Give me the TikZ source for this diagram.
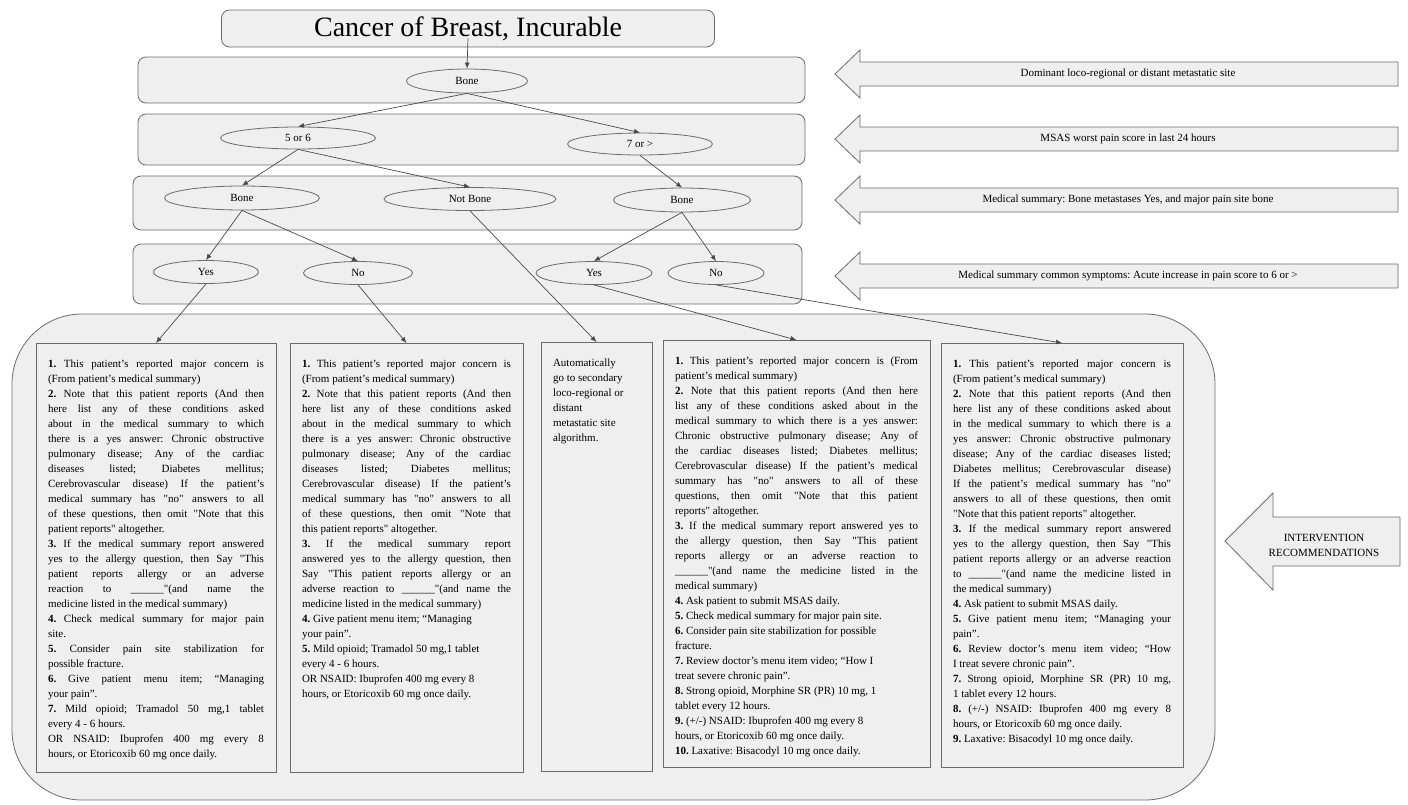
\documentclass[tikz,border=0pt]{standalone}
\usepackage{fontspec}
\setmainfont{Liberation Serif}
\usetikzlibrary{arrows.meta, shapes.geometric, positioning}
\definecolor{panel}{HTML}{EFEFEF}
\definecolor{edge}{HTML}{6B6B6B}
\definecolor{wire}{HTML}{4A4A4A}
\newcommand{\dquote}{\textquotedbl}
\tikzset{> = { Latex[length = 6pt, width = 5pt] }}
\tolerance=10000
\hbadness=10000
\hyphenpenalty=10000
\frenchspacing

\begin{document}
\begin{tikzpicture}[x = 1pt, y = -1pt, line width = 0.8pt,
		choice/.style = { draw = edge, fill = panel, ellipse, inner sep = 0pt, font = \fontsize{11}{13}\selectfont },
		band/.style = { draw = edge, fill = panel, rounded corners = 8pt },
		pointer/.style = { draw = edge, fill = panel },
		advice/.style = { draw = edge, fill = panel, anchor = north, align = justify, inner xsep = 12pt, inner ysep = 8pt, text height = 16pt,
			font = \fontsize{11}{15}\selectfont },
		hint/.style = { font = \fontsize{11}{15}\selectfont },
		flow/.style = { ->, draw = wire, line width = 0.7pt }]

		\useasboundingbox (0,0) rectangle (1408,804);

		% background bands
		\draw [band, rounded corners = 70pt] (12,314) rectangle (1215,800);
		\draw [band] (138,57) rectangle (805,103);
		\draw [band] (138,114) rectangle (805,165);
		\draw [band] (133,176) rectangle (802,230);
		\draw [band] (133,244) rectangle (802,304);

		\node [band, minimum width = 493, minimum height = 37, font = \fontsize{28}{30}\selectfont] (title) at (468,28.5) {Cancer of Breast, Incurable};

		% decision tree
		\node [choice, minimum width = 121, minimum height = 24] (site)    at (467,81)  {Bone};
		\node [choice, minimum width = 155, minimum height = 22] (low)     at (298,138) {5 or 6};
		\node [choice, minimum width = 145, minimum height = 22] (high)    at (640,144) {7 or >};
		\node [choice, minimum width = 155, minimum height = 24] (boneA)   at (242,198) {Bone};
		\node [choice, minimum width = 172, minimum height = 23] (notbone) at (470,199) {Not Bone};
		\node [choice, minimum width = 137, minimum height = 24] (boneB)   at (682,200) {Bone};
		\node [choice, minimum width = 105, minimum height = 23] (yesA)    at (206,272) {Yes};
		\node [choice, minimum width = 109, minimum height = 23] (noA)     at (358,273) {No};
		\node [choice, minimum width = 116, minimum height = 23] (yesB)    at (594,273) {Yes};
		\node [choice, minimum width = 96,  minimum height = 23] (noB)     at (716,273) {No};

		% recommendations
		\node [advice, text width = 216, text depth = 397] (recA) at (156,343) {\textbf{1.} This patient's reported major concern is\linebreak
			(From patient's medical summary)\\
			\textbf{2.} Note that this patient reports (And then\linebreak
			here list any of these conditions asked\linebreak
			about in the medical summary to which\linebreak
			there is a yes answer: Chronic obstructive\linebreak
			pulmonary disease; Any of the cardiac\linebreak
			diseases listed; Diabetes mellitus;\linebreak
			Cerebrovascular disease) If the patient's\linebreak
			medical summary has \dquote no\dquote{} answers to all\linebreak
			of these questions, then omit \dquote Note that this\linebreak
			patient reports\dquote{} altogether.\\
			\textbf{3.} If the medical summary report answered\linebreak
			yes to the allergy question, then Say \dquote This\linebreak
			patient reports allergy or an adverse\linebreak
			reaction to \_\_\_\_\_\_\dquote(and name the\linebreak
			medicine listed in the medical summary)\\
			\textbf{4.} Check medical summary for major pain\linebreak
			site.\\
			\textbf{5.} Consider pain site stabilization for\linebreak
			possible fracture.\\
			\textbf{6.} Give patient menu item; ``Managing\linebreak
			your pain''.\\
			\textbf{7.} Mild opioid; Tramadol 50 mg,1 tablet\linebreak
			every 4 - 6 hours.\\
			OR NSAID: Ibuprofen 400 mg every 8\linebreak
			hours, or Etoricoxib 60 mg once daily.};

		\node [advice, text width = 209, text depth = 397] (recB) at (406.5,343) {\textbf{1.} This patient's reported major concern is\linebreak
			(From patient's medical summary)\\
			\textbf{2.} Note that this patient reports (And then\linebreak
			here list any of these conditions asked\linebreak
			about in the medical summary to which\linebreak
			there is a yes answer: Chronic obstructive\linebreak
			pulmonary disease; Any of the cardiac\linebreak
			diseases listed; Diabetes mellitus;\linebreak
			Cerebrovascular disease) If the patient's\linebreak
			medical summary has \dquote no\dquote{} answers to all\linebreak
			of these questions, then omit \dquote Note that\linebreak
			this patient reports\dquote{} altogether.\\
			\textbf{3.} If the medical summary report\linebreak
			answered yes to the allergy question, then\linebreak
			Say \dquote This patient reports allergy or an\linebreak
			adverse reaction to \_\_\_\_\_\_\dquote(and name the\linebreak
			medicine listed in the medical summary)\\
			\textbf{4.} Give patient menu item; ``Managing\\
			your pain''.\\
			\textbf{5.} Mild opioid; Tramadol 50 mg,1 tablet\\
			every 4 - 6 hours.\\
			OR NSAID: Ibuprofen 400 mg every 8\\
			hours, or Etoricoxib 60 mg once daily.};

		\node [advice, text width = 87, text depth = 397] (recC) at (596.5,342) {Automatically\\
			go to secondary\\
			loco-regional or\\
			distant\\
			metastatic site\\
			algorithm.};

		\node [advice, text width = 243, text depth = 395] (recD) at (796.5,340) {\textbf{1.} This patient's reported major concern is (From\linebreak
			patient's medical summary)\\
			\textbf{2.} Note that this patient reports (And then here\linebreak
			list any of these conditions asked about in the\linebreak
			medical summary to which there is a yes answer:\linebreak
			Chronic obstructive pulmonary disease; Any of\linebreak
			the cardiac diseases listed; Diabetes mellitus;\linebreak
			Cerebrovascular disease) If the patient's medical\linebreak
			summary has \dquote no\dquote{} answers to all of these\linebreak
			questions, then omit \dquote Note that this patient\linebreak
			reports\dquote{} altogether.\\
			\textbf{3.} If the medical summary report answered yes to\linebreak
			the allergy question, then Say \dquote This patient\linebreak
			reports allergy or an adverse reaction to\linebreak
			\_\_\_\_\_\_\dquote(and name the medicine listed in the\linebreak
			medical summary)\\
			\textbf{4.} Ask patient to submit MSAS daily.\\
			\textbf{5.} Check medical summary for major pain site.\\
			\textbf{6.} Consider pain site stabilization for possible\\
			fracture.\\
			\textbf{7.} Review doctor's menu item video; ``How I\\
			treat severe chronic pain''.\\
			\textbf{8.} Strong opioid, Morphine SR (PR) 10 mg, 1\\
			tablet every 12 hours.\\
			\textbf{9.} (+/-) NSAID: Ibuprofen 400 mg every 8\\
			hours, or Etoricoxib 60 mg once daily.\\
			\textbf{10.} Laxative: Bisacodyl 10 mg once daily.};

		\node [advice, text width = 218, text depth = 392] (recE) at (1062,343) {\textbf{1.} This patient's reported major concern is\linebreak
			(From patient's medical summary)\\
			\textbf{2.} Note that this patient reports (And then\linebreak
			here list any of these conditions asked about\linebreak
			in the medical summary to which there is a\linebreak
			yes answer: Chronic obstructive pulmonary\linebreak
			disease; Any of the cardiac diseases listed;\linebreak
			Diabetes mellitus; Cerebrovascular disease)\linebreak
			If the patient's medical summary has \dquote no\dquote\linebreak
			answers to all of these questions, then omit\linebreak
			\dquote Note that this patient reports\dquote{} altogether.\\
			\textbf{3.} If the medical summary report answered\linebreak
			yes to the allergy question, then Say \dquote This\linebreak
			patient reports allergy or an adverse reaction\linebreak
			to \_\_\_\_\_\_\dquote(and name the medicine listed in\linebreak
			the medical summary)\\
			\textbf{4.} Ask patient to submit MSAS daily.\\
			\textbf{5.} Give patient menu item; ``Managing your\linebreak
			pain''.\\
			\textbf{6.} Review doctor's menu item video; ``How\linebreak
			I treat severe chronic pain''.\\
			\textbf{7.} Strong opioid, Morphine SR (PR) 10 mg,\linebreak
			1 tablet every 12 hours.\\
			\textbf{8.} (+/-) NSAID: Ibuprofen 400 mg every 8\linebreak
			hours, or Etoricoxib 60 mg once daily.\\
			\textbf{9.} Laxative: Bisacodyl 10 mg once daily.};

		% level pointers
		\foreach \ty/\lbl [count = \i] in {74/{Dominant loco-regional or distant metastatic site},
				139/{MSAS worst pain score in last 24 hours},
				200/{Medical summary: Bone metastases Yes, and major pain site bone},
				276/{Medical summary common symptoms: Acute increase in pain score to 6 or >}}
		{
			\draw [pointer] (835,\ty) -- (860,\ty-24) -- (860,\ty-12) -- (1398,\ty-12) -- (1398,\ty+12) -- (860,\ty+12) -- (860,\ty+24) -- cycle;
			\node [hint] (level\i) at (1128,\ty) {\lbl};
		}
		\draw [pointer] (1225,541) -- (1273,493) -- (1273,517) -- (1400,517) -- (1400,566) -- (1273,566) -- (1273,590) -- cycle;
		\node [hint, align = center] (action) at (1324,545) {INTERVENTION\\RECOMMENDATIONS};

		% connectors
		\draw [flow] ([yshift = 9pt]title.south) -- (site.north);
		\draw [flow] (site.south) -- (low.north);
		\draw [flow] (site.south) -- (high.north);
		\draw [flow] (low.south) -- (boneA.north);
		\draw [flow] (low.south) -- (notbone.north);
		\draw [flow] (high.south) -- (boneB.north);
		\draw [flow] (boneA.south) -- (yesA.north);
		\draw [flow] (boneA.south) -- (noA.north);
		\draw [flow] (boneB.south) -- (yesB.north);
		\draw [flow] (boneB.south) -- (noB.north);
		\draw [flow] (notbone.south) -- (recC.north);
		\draw [flow] (yesA.south) -- (recA.north);
		\draw [flow] (noA.south) -- (recB.north);
		\draw [flow] (yesB.south) -- (recD.north);
		\draw [flow] (noB.south) -- (recE.north);
	\end{tikzpicture}
\end{document}
